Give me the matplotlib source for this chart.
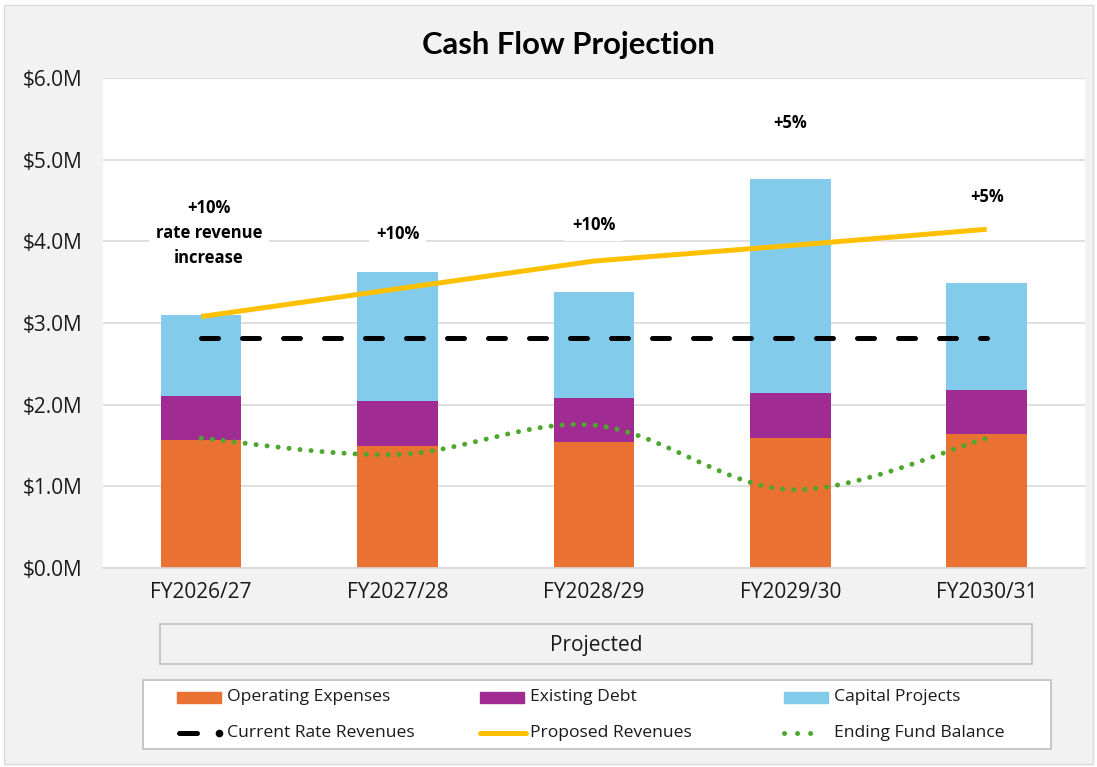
import matplotlib
matplotlib.use("Agg")
import matplotlib.pyplot as plt
from matplotlib.patches import Rectangle, PathPatch
from matplotlib.path import Path
from matplotlib.lines import Line2D
from matplotlib.ticker import FuncFormatter
import numpy as np

plt.rcParams['font.family'] = ['Open Sans', 'DejaVu Sans']

# ------------------------------------------------------------------
# data ($ millions)
# ------------------------------------------------------------------
years = ['FY2026/27', 'FY2027/28', 'FY2028/29', 'FY2029/30', 'FY2030/31']
operating = [1.57, 1.49, 1.54, 1.59, 1.64]
debt = [0.54, 0.55, 0.54, 0.55, 0.54]
capital = [0.99, 1.58, 1.30, 2.62, 1.31]
current_rev = [2.82, 2.82, 2.82, 2.82, 2.82]
proposed_rev = [3.08, 3.42, 3.76, 3.95, 4.15]
fund_balance = [1.59, 1.39, 1.75, 0.96, 1.59]
increase_labels = ['+10%\nrate revenue\nincrease', '+10%', '+10%', '+5%', '+5%']
label_heights = [4.1, 4.09, 4.2, 5.45, 4.54]

c_oper = '#E97132'
c_debt = '#A02B93'
c_cap = '#83CBEB'
c_gold = '#FFC000'
c_green = '#4EA72E'
c_grid = '#D9D9D9'

W, H = 1097, 767


def fxy(px, py):
    # pixel position (from top left) -> figure fraction
    return px / W, 1 - py / H


fig = plt.figure(figsize=(10.97, 7.67), dpi=100, facecolor='white')
fig.patches.append(Rectangle((0.004, 0.004), 0.992, 0.99, transform=fig.transFigure,
                             facecolor='#F2F2F2', edgecolor=c_grid, lw=1, zorder=-10))

ax = fig.add_axes([0.0939, 0.2595, 0.8951, 0.6385])
ax.set_facecolor('white')

x = np.arange(len(years))
w = 0.41
bot2 = np.array(operating) + np.array(debt)
ax.bar(x, operating, w, color=c_oper, zorder=2)
ax.bar(x, debt, w, bottom=operating, color=c_debt, zorder=2)
ax.bar(x, capital, w, bottom=bot2, color=c_cap, zorder=2)

ax.plot(x, current_rev, color='black', lw=3.6, dashes=(3.4, 4.8),
        dash_capstyle='round', zorder=4)
ax.plot(x, proposed_rev, color=c_gold, lw=3.6, solid_capstyle='butt', zorder=4)

# smoothed line for ending fund balance (catmull-rom as bezier)
pts = np.column_stack([x, fund_balance]).astype(float)
ext = np.vstack([pts[0], pts, pts[-1]])
verts = [tuple(pts[0])]
codes = [Path.MOVETO]
for i in range(len(pts) - 1):
    p0, p1, p2, p3 = ext[i], ext[i + 1], ext[i + 2], ext[i + 3]
    c1 = p1 + (p2 - p0) / 6.0
    c2 = p2 - (p3 - p1) / 6.0
    verts += [tuple(c1), tuple(c2), tuple(p2)]
    codes += [Path.CURVE4] * 3
fb = PathPatch(Path(verts, codes), fill=False, edgecolor=c_green, lw=3.6,
               linestyle=(0, (0.01, 2.2)), capstyle='round', zorder=4)
ax.add_patch(fb)

for xi, lab, h in zip(x, increase_labels, label_heights):
    dx = 0.04 if xi == 0 else 0
    ax.text(xi + dx, h, lab, ha='center', va='center', fontsize=12, fontweight='bold',
            linespacing=1.5, zorder=5,
            bbox=dict(facecolor='white', edgecolor='none', pad=5))

ax.set_xlim(-0.5, 4.5)
ax.set_ylim(0, 6)
ax.set_yticks(np.arange(0, 7, 1))
ax.yaxis.set_major_formatter(FuncFormatter(lambda v, p: f'${v:.1f}M'))
ax.set_xticks(x)
ax.set_xticklabels(years)
ax.tick_params(axis='both', length=0, labelsize=15, colors='#1a1a1a')
ax.tick_params(axis='y', pad=15)
ax.tick_params(axis='x', pad=10)
ax.grid(axis='y', color=c_grid, lw=1.2, zorder=0)
ax.set_axisbelow(True)
for s in ['top', 'right', 'left']:
    ax.spines[s].set_visible(False)
ax.spines['bottom'].set_color(c_grid)
ax.spines['bottom'].set_linewidth(1.2)

fig.text(*fxy(568, 45), 'Cash Flow Projection', ha='center', va='center',
         fontsize=22.3, fontweight='bold', family=['Lato', 'DejaVu Sans'])

# category group box
fig.patches.append(Rectangle(fxy(160, 664), 872 / W, 40 / H,
                             transform=fig.transFigure, facecolor='none',
                             edgecolor='#BFBFBF', lw=1.2))
fig.text(*fxy(596, 645), 'Projected', ha='center', va='center', fontsize=15,
         color='#1a1a1a')

# legend, laid out like the excel one (three equal columns, two rows)
fig.patches.append(Rectangle(fxy(143, 749), 908 / W, 69 / H,
                             transform=fig.transFigure, facecolor='white',
                             edgecolor='#BFBFBF', lw=1.2))
col_x = [177, 480, 784]
row_y = [697, 733]
hl = 44
leg_labels = [['Operating Expenses', 'Existing Debt', 'Capital Projects'],
              ['Current Rate Revenues', 'Proposed Revenues', 'Ending Fund Balance']]
for j, c in enumerate([c_oper, c_debt, c_cap]):
    fig.patches.append(Rectangle(fxy(col_x[j], row_y[0] + 5.5), hl / W, 11 / H,
                                 transform=fig.transFigure, color=c))
tf = fig.transFigure
x0, y1 = fxy(col_x[0], row_y[1])
fig.add_artist(Line2D([x0 + 2 / W, x0 + 20 / W], [y1, y1], transform=tf,
                      color='black', lw=3.6, solid_capstyle='round'))
fig.add_artist(Line2D([x0 + 42 / W], [y1], transform=tf, color='black',
                      marker='o', ms=4.5, lw=0))
x1, _ = fxy(col_x[1], row_y[1])
fig.add_artist(Line2D([x1, x1 + 46 / W], [y1, y1], transform=tf,
                      color=c_gold, lw=3.6, solid_capstyle='round'))
x2, _ = fxy(col_x[2], row_y[1])
fig.add_artist(Line2D([x2, x2 + 39 / W], [y1, y1], transform=tf, color=c_green,
                      lw=3.6, linestyle=(0, (0.01, 2.6)), dash_capstyle='round'))
for r in range(2):
    for j in range(3):
        tx, ty = fxy(col_x[j] + hl + 6, row_y[r])
        fig.text(tx, ty, leg_labels[r][j], ha='left', va='center', fontsize=12.6,
                 color='#1a1a1a')

fig.savefig('out.png', dpi=100, facecolor=fig.get_facecolor())
